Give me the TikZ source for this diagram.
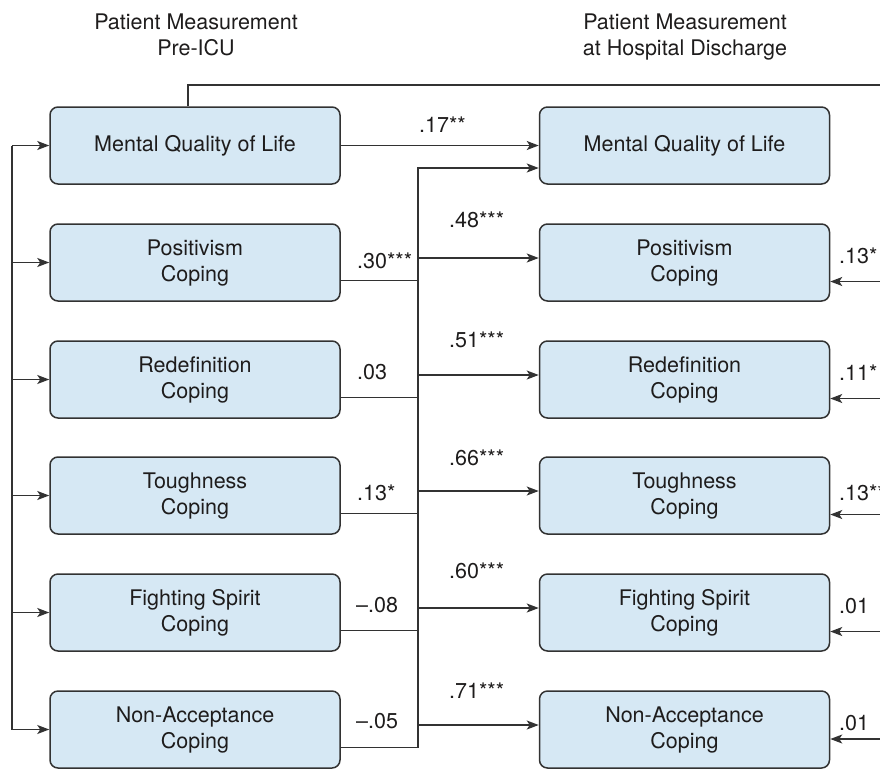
\documentclass[tikz,border=0pt]{standalone}
\usepackage{fontspec}
\setmainfont{TeX Gyre Heros}
\usetikzlibrary{arrows.meta}
\definecolor{boxfill}{RGB}{214,232,244}
\definecolor{linec}{RGB}{50,50,50}
\definecolor{textc}{RGB}{30,28,28}
\begin{document}
\begin{tikzpicture}[x=1pt,y=-1pt,
  every node/.style={text=textc,font=\fontsize{21.5}{26}\selectfont},
  varbox/.style={draw=linec,line width=1.5pt,fill=boxfill,rounded corners=8pt,
    minimum width=290pt,minimum height=77pt,inner sep=0pt,align=center},
  conn/.style={draw=linec,line width=1.5pt},
  arr/.style={conn,-{Stealth[length=12pt,width=9pt,inset=3pt]}},
  lab/.style={anchor=base west,inner sep=0pt},
  head/.style={anchor=base,align=center,inner sep=0pt}]
\useasboundingbox (0,0) rectangle (880,769);

% headers
\node[head] (hL) at (196,55) {Patient Measurement\\Pre-ICU};
\node[head] (hR) at (685,55) {Patient Measurement\\at Hospital Discharge};

% left boxes
\node[varbox] (L1) at (195,145.5) {Mental Quality of Life};
\node[varbox] (L2) at (195,262.5) {Positivism\\Coping};
\node[varbox] (L3) at (195,379.5) {Redefinition\\Coping};
\node[varbox] (L4) at (195,495.5) {Toughness\\Coping};
\node[varbox] (L5) at (195,612.5) {Fighting Spirit\\Coping};
\node[varbox] (L6) at (195,729.5) {Non-Acceptance\\Coping};

% right boxes
\node[varbox] (R1) at (684.5,145.5) {Mental Quality of Life};
\node[varbox] (R2) at (684.5,262.5) {Positivism\\Coping};
\node[varbox] (R3) at (684.5,379.5) {Redefinition\\Coping};
\node[varbox] (R4) at (684.5,495.5) {Toughness\\Coping};
\node[varbox] (R5) at (684.5,612.5) {Fighting Spirit\\Coping};
\node[varbox] (R6) at (684.5,729.5) {Non-Acceptance\\Coping};

% helper coordinates
\coordinate (lb) at (12,0);
\coordinate (mbT) at (418,168);
\coordinate (rb) at (880,0);
\coordinate (topL) at (188,85);
\coordinate (topR) at (880,85);

% left bus
\draw[conn] (lb |- L1.west) -- (lb |- L6.west);
\foreach \i in {1,...,6}{
  \draw[arr] (lb |- L\i.west) -- (L\i.west);
}

% top line
\draw[conn] (topL |- L1.north) -- (topL) -- (topR);

% mental QoL path
\draw[arr] (L1.east) -- (R1.west);

% middle bus
\draw[arr] ([yshift=-18pt]L6.east) -| (mbT) -- (mbT -| R1.west);
\foreach \i in {2,...,5}{
  \draw[conn] ([yshift=-18pt]L\i.east) -- ([yshift=-18pt]L\i.east -| mbT);
}
\foreach \i in {2,...,6}{
  \path ([yshift=4.5pt]R\i.west) coordinate (rin\i);
  \draw[arr] (rin\i -| mbT) -- (rin\i);
}

% right incoming arrows
\foreach \i in {2,...,5}{
  \path ([yshift=-19pt]R\i.east) coordinate (rout\i);
  \draw[arr] (rout\i -| rb) -- (rout\i);
}
\path ([yshift=-9.5pt]R6.east) coordinate (rout6);
\draw[arr] (rout6 -| rb) -- (rout6);

% labels
\node[lab] (c17) at (419,132) {.17**};
\node[lab] (c48) at (449,227) {.48***};
\node[lab] (c51) at (449,347) {.51***};
\node[lab] (c66) at (449,465) {.66***};
\node[lab] (c60) at (449,578) {.60***};
\node[lab] (c71) at (449,698) {.71***};

\node[lab] (c30) at (357,268) {.30***};
\node[lab] (c03) at (357,379) {.03};
\node[lab] (c13) at (357,500) {.13*};
\node[lab] (c08) at (356,612) {–.08};
\node[lab] (c05) at (356,728) {–.05};

\node[lab] (d13) at (839,263) {.13*};
\node[lab] (d11) at (839,380) {.11*};
\node[lab] (d13b) at (839,500) {.13**};
\node[lab] (d01) at (839,613) {.01};
\node[lab] (d01b) at (839,730) {.01};
\end{tikzpicture}
\end{document}
